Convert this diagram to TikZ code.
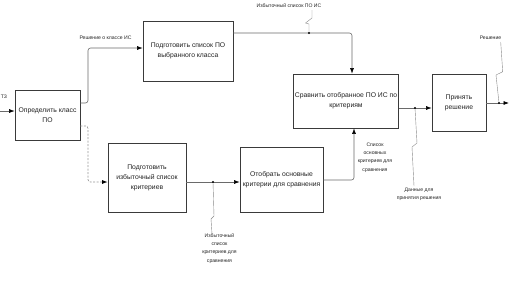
\documentclass[tikz,border=0pt]{standalone}
\usepackage{fontspec}
\setmainfont{Liberation Sans}
\usetikzlibrary{arrows.meta}
\definecolor{boxc}{HTML}{3A3A3A}
\definecolor{linec}{HTML}{6A6A6A}
\definecolor{txtc}{HTML}{222222}
\begin{document}
\begin{tikzpicture}[x=1pt,y=-1pt,
  box/.style={draw=boxc,line width=0.8pt,fill=white,align=center,inner sep=1pt,
    font=\fontsize{6.8}{10}\selectfont,text=txtc},
  conn/.style={draw=linec,line width=0.6pt,rounded corners=2.5pt},
  arr/.style={-{Latex[length=5.5pt,width=4pt,color=black]}},
  dashconn/.style={draw=linec!70,line width=0.7pt,dashed,dash pattern=on 2pt off 1.5pt,rounded corners=2.5pt},
  lab/.style={align=center,inner sep=0pt,font=\fontsize{5.1}{8.2}\selectfont,text=txtc},
  lead/.style={draw=linec!80,line width=0.4pt},
  dot/.style={circle,fill=black,inner sep=0pt,minimum size=2.2pt}]
\useasboundingbox (0,0) rectangle (509,285);
% boxes
\node[box,minimum width=65pt,minimum height=50pt] (A) at (47.5,115) {Определить класс\\ПО};
\node[box,minimum width=90pt,minimum height=60pt] (B) at (188,51) {Подготовить список ПО\\выбранного класса};
\node[box,minimum width=78pt,minimum height=69pt] (C) at (147,177.5) {Подготовить\\избыточный список\\критериев};
\node[box,minimum width=83pt,minimum height=65pt] (D) at (281.5,179.5) {Отобрать основные\\критерии для сравнения};
\node[box,minimum width=104pt,minimum height=54pt] (E) at (346,101) {Сравнить отобранное ПО ИС по\\критериям};
\node[box,minimum width=54pt,minimum height=57pt] (F) at (459,102.5) {Принять\\решение};
% free ends
\coordinate (tz) at (0,111);
\coordinate (out) at (509,103);
% connectors
\draw[conn,arr] (tz) -- (A.west |- tz);
\draw[conn,arr] (A.east |- 0,103) -- (88,103) -- (88,48) -- (B.west |- 0,48);
\draw[dashconn,arr] (A.east |- 0,126) -- (88,126) -- (88,182) -- (C.west |- 0,182);
\draw[conn,arr] (B.east |- 0,33) -- (352,33) -- (E.north -| 352,0);
\draw[conn,arr] (C.east |- 0,182) -- (D.west |- 0,182);
\draw[conn,arr] (D.east |- 0,180) -- (354,180) -- (E.south -| 354,0);
\draw[conn,arr] (E.east |- 0,108) -- (F.west |- 0,108);
\draw[conn,arr] (F.east |- out) -- (out);
% dots
\node[dot] (d1) at (309,33) {};
\node[dot] (d2) at (213,182) {};
\node[dot] (d3) at (415,108) {};
\node[dot] (d4) at (499,103) {};
% labels
\node[lab] (ltz) at (4,97) {ТЗ};
\node[lab] (lab1) at (105.5,38) {Решение о классе ИС};
\node[lab] (lab2) at (289,6) {Избыточный список ПО ИС};
\node[lab] (lab3) at (219.5,248.5) {Избыточный\\список\\критериев для\\сравнения};
\node[lab] (lab4) at (375,157.5) {Список\\основных\\критериев для\\сравнения};
\node[lab] (lab5) at (419,194) {Данные для\\принятия решения};
\node[lab] (lab6) at (490.5,38) {Решение};
% leaders
\draw[lead] (d1) -- (309,24) -- (305.5,23) -- (312,18) -- (312,10);
\draw[lead] (d2) -- (214,216) -- (211,219) -- (212,234);
\draw[lead] (d3) -- (417,143) -- (412,147) -- (414,186);
\draw[lead] (d4) -- (496,75) -- (502.7,71.7) -- (500.7,42);
\end{tikzpicture}
\end{document}
